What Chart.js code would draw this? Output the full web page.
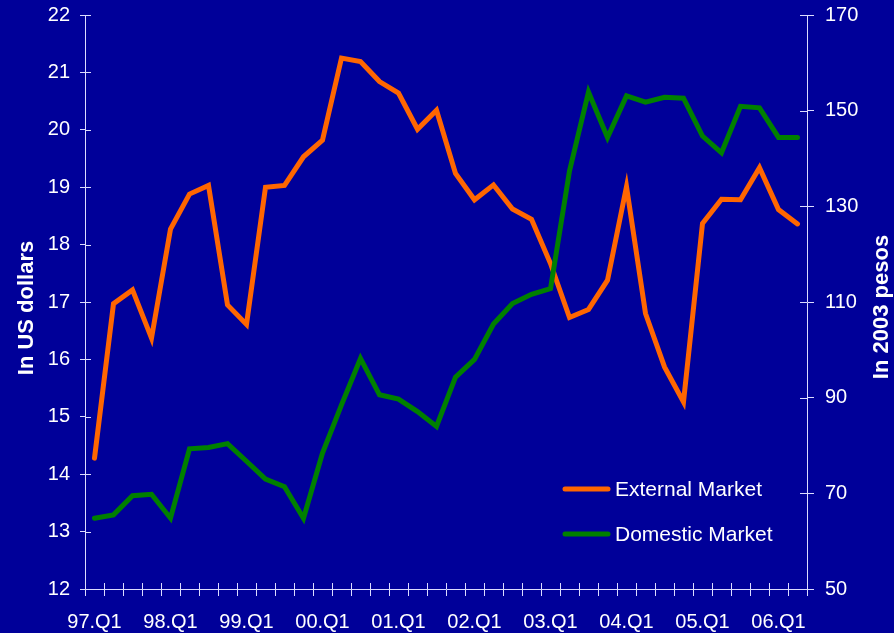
<!DOCTYPE html>
<html>
<head>
<meta charset="utf-8">
<script src="https://cdn.jsdelivr.net/npm/chart.js@4.4.1/dist/chart.umd.min.js"></script>
<style>
  html, body { margin: 0; padding: 0; background: #000099; }
</style>
</head>
<body>
<canvas id="grafico" width="894" height="633"></canvas>
<script>
// quarters 97.Q1 .. 06.Q2
const quarters = [
  '97.Q1', '97.Q2', '97.Q3', '97.Q4', '98.Q1', '98.Q2', '98.Q3', '98.Q4',
  '99.Q1', '99.Q2', '99.Q3', '99.Q4', '00.Q1', '00.Q2', '00.Q3', '00.Q4',
  '01.Q1', '01.Q2', '01.Q3', '01.Q4', '02.Q1', '02.Q2', '02.Q3', '02.Q4',
  '03.Q1', '03.Q2', '03.Q3', '03.Q4', '04.Q1', '04.Q2', '04.Q3', '04.Q4',
  '05.Q1', '05.Q2', '05.Q3', '05.Q4', '06.Q1', '06.Q2'
]

// In US dollars (left axis)
const externalMarket = [
  14.28, 16.97, 17.21, 16.37, 18.27, 18.88, 19.03, 16.95,
  16.61, 19.00, 19.03, 19.53, 19.82, 21.25, 21.19, 20.84,
  20.64, 20.01, 20.34, 19.24, 18.78, 19.04, 18.62, 18.44,
  17.67, 16.73, 16.87, 17.38, 19.01, 16.80, 15.87, 15.26,
  18.37, 18.79, 18.78, 19.34, 18.61, 18.36
]

// In 2003 pesos (right axis)
const domesticMarket = [
  64.8, 65.5, 69.5, 69.8, 64.8, 79.3, 79.6, 80.4,
  76.7, 73.0, 71.4, 64.8, 78.4, 88.5, 98.2, 90.6,
  89.7, 87.1, 84.0, 94.3, 98.0, 105.4, 109.7, 111.6,
  112.8, 137.4, 153.9, 144.4, 153.1, 151.8, 152.8, 152.6,
  144.7, 141.2, 150.9, 150.6, 144.4, 144.4
]

const leftTitle = 'In US dollars'
const rightTitle = 'In 2003 pesos'

const fondoColor = '#000099'
const ejeColor = '#dcdcff'
const fuente = '"Liberation Sans", Arial, Helvetica, sans-serif'

// fondo azul
const fondo = {
  id: 'fondo',
  beforeDraw(chart) {
    const c = chart.ctx
    c.save()
    c.fillStyle = fondoColor
    c.fillRect(0, 0, chart.width, chart.height)
    c.restore()
  },
}

// parte interior de las marcas de los ejes (cruzan la linea del eje)
const marcas = {
  id: 'marcas',
  beforeDatasetsDraw(chart) {
    const c = chart.ctx
    const { x, y, y2 } = chart.scales
    c.save()
    c.strokeStyle = ejeColor
    c.lineWidth = 1
    c.beginPath()
    for (let i = 0; i <= quarters.length; i++) {
      const px = Math.round(x.getPixelForValue(i - 0.5)) + 0.5
      c.moveTo(px, x.top)
      c.lineTo(px, x.top - 6)
    }
    y.ticks.forEach((t) => {
      const py = Math.round(y.getPixelForValue(t.value)) + 0.5
      c.moveTo(y.right, py)
      c.lineTo(y.right + 6, py)
    })
    y2.ticks.forEach((t) => {
      const py = Math.round(y2.getPixelForValue(t.value)) + 0.5
      c.moveTo(y2.left, py)
      c.lineTo(y2.left - 7, py)
    })
    c.stroke()
    c.restore()
  },
}

// leyenda dentro del grafico y titulos de los ejes
const leyenda = {
  id: 'leyenda',
  afterDraw(chart) {
    const c = chart.ctx
    c.save()
    c.font = '21px ' + fuente
    c.textBaseline = 'middle'
    c.lineCap = 'round'
    chart.data.datasets.forEach((ds, i) => {
      const yy = 489 + i * 45
      c.strokeStyle = ds.borderColor
      c.lineWidth = 5
      c.beginPath()
      c.moveTo(565, yy)
      c.lineTo(608, yy)
      c.stroke()
      c.fillStyle = '#ffffff'
      c.textAlign = 'left'
      c.fillText(ds.label, 615, yy + 1)
    })

    c.font = 'bold 22px ' + fuente
    c.fillStyle = '#ffffff'
    c.textAlign = 'center'
    c.save()
    c.translate(27, 308)
    c.rotate(-Math.PI / 2)
    c.fillText(leftTitle, 0, 0)
    c.restore()
    c.save()
    c.translate(882, 307)
    c.rotate(-Math.PI / 2)
    c.fillText(rightTitle, 0, 0)
    c.restore()
    c.restore()
  },
}

// ancho fijo del eje vertical, sin relleno extra arriba y abajo
const ajusteVertical = (ancho) => (s) => {
  s.width = ancho
  s.paddingTop = 0
  s.paddingBottom = 0
}

const contenedor = document.getElementById('grafico')

const grafico = new Chart(contenedor, {
  type: 'line',
  data: {
    labels: quarters,
    datasets: [
      {
        label: 'External Market',
        data: externalMarket,
        yAxisID: 'y',
        borderColor: '#ff6600',
        backgroundColor: '#ff6600',
        borderWidth: 5,
        pointRadius: 0,
        tension: 0,
        borderCapStyle: 'round',
        order: 1,
      },
      {
        label: 'Domestic Market',
        data: domesticMarket,
        yAxisID: 'y2',
        borderColor: '#008000',
        backgroundColor: '#008000',
        borderWidth: 5,
        pointRadius: 0,
        tension: 0,
        borderCapStyle: 'round',
        order: 0,
      },
    ],
  },
  options: {
    responsive: false,
    animation: false,
    layout: {
      padding: { top: 15, left: 0, right: 0, bottom: 0 },
    },
    scales: {
      x: {
        offset: true,
        afterFit: (s) => {
          s.height = 44
          s.paddingLeft = 0
          s.paddingRight = 0
        },
        border: { color: ejeColor, width: 1 },
        grid: {
          offset: true,
          drawOnChartArea: false,
          drawTicks: true,
          tickLength: 7,
          color: ejeColor,
        },
        ticks: {
          autoSkip: false,
          maxRotation: 0,
          padding: 14,
          color: '#ffffff',
          font: { family: fuente, size: 20 },
          callback: (v, i) => (i % 4 === 0 ? quarters[i] : ''),
        },
      },
      y: {
        position: 'left',
        min: 12,
        max: 22,
        afterFit: ajusteVertical(85),
        border: { color: ejeColor, width: 1 },
        grid: {
          drawOnChartArea: false,
          drawTicks: true,
          tickLength: 5,
          color: ejeColor,
        },
        ticks: {
          stepSize: 1,
          padding: 10,
          color: '#ffffff',
          font: { family: fuente, size: 20 },
        },
      },
      y2: {
        position: 'right',
        min: 50,
        max: 170,
        afterFit: ajusteVertical(87),
        border: { color: ejeColor, width: 1 },
        grid: {
          drawOnChartArea: false,
          drawTicks: true,
          tickLength: 7,
          color: ejeColor,
        },
        ticks: {
          stepSize: 20,
          padding: 11,
          color: '#ffffff',
          font: { family: fuente, size: 20 },
        },
      },
    },
    plugins: {
      legend: { display: false },
      tooltip: { enabled: false },
      title: { display: false },
    },
  },
  plugins: [fondo, marcas, leyenda],
})
</script>
</body>
</html>
